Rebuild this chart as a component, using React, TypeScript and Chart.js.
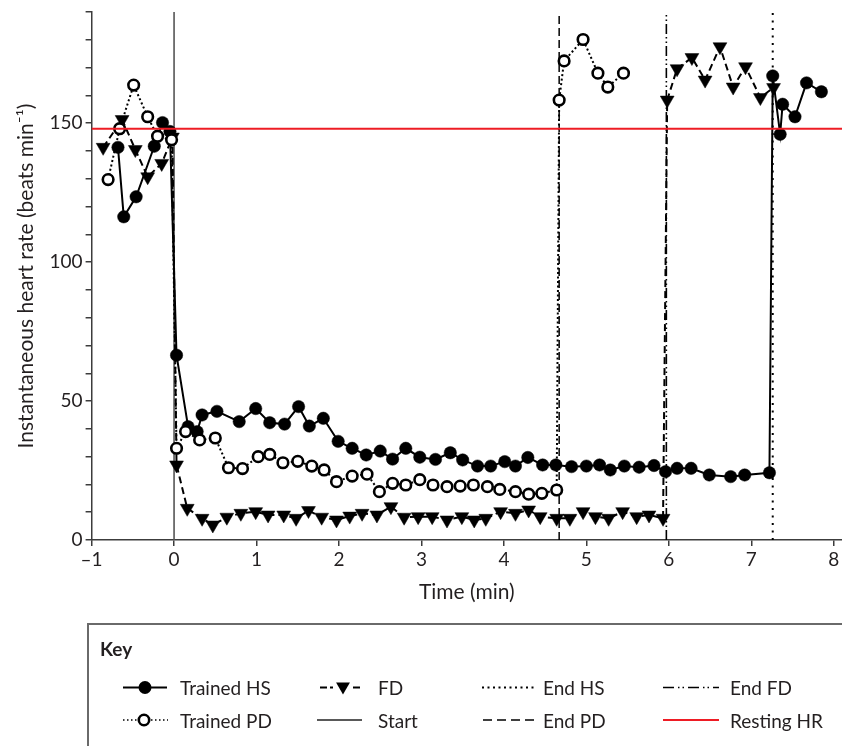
import React, { useEffect, useRef } from "react";
import { Chart, registerables } from "chart.js";

Chart.register(...registerables);

// ---------- data ----------
const hsTime = [-0.68, -0.61, -0.46, -0.24, -0.14, -0.05, 0.03, 0.17, 0.28, 0.34, 0.52, 0.79, 0.99, 1.16, 1.34, 1.51, 1.64, 1.81, 1.99, 2.16, 2.33, 2.5, 2.65, 2.81, 2.98, 3.17, 3.35, 3.5, 3.68, 3.84, 4.01, 4.14, 4.29, 4.47, 4.63, 4.82, 5.0, 5.16, 5.29, 5.46, 5.64, 5.82, 5.96, 6.1, 6.27, 6.49, 6.75, 6.92, 7.22, 7.26, 7.35, 7.38, 7.53, 7.67, 7.85];
const hsRate = [141.3, 116.3, 123.5, 141.7, 150.2, 147, 66.5, 40.8, 39, 45, 46.3, 42.6, 47.3, 42.2, 41.7, 48.0, 41.0, 43.8, 35.5, 33.0, 30.6, 32.0, 29.1, 33.0, 29.8, 29.0, 31.4, 28.8, 26.6, 26.6, 28.2, 26.6, 29.7, 27.0, 27.0, 26.4, 26.6, 27.0, 25.2, 26.6, 26.2, 26.8, 24.6, 25.8, 25.8, 23.4, 22.8, 23.4, 24.2, 167, 146, 156.8, 152.3, 164.5, 161.3];

const pdTime = [-0.8, -0.66, -0.49, -0.32, -0.2, -0.03, 0.03, 0.14, 0.31, 0.5, 0.66, 0.83, 1.02, 1.16, 1.32, 1.5, 1.67, 1.82, 1.97, 2.16, 2.34, 2.49, 2.65, 2.81, 2.98, 3.14, 3.31, 3.47, 3.63, 3.8, 3.95, 4.14, 4.3, 4.46, 4.64, 4.67, 4.73, 4.96, 5.14, 5.26, 5.45];
const pdRate = [129.7, 148, 163.7, 152.3, 145.3, 144, 33, 39, 36, 36.7, 26.0, 25.7, 30.0, 30.8, 27.8, 28.3, 26.6, 25.2, 21.0, 23.0, 23.7, 17.4, 20.4, 19.8, 21.7, 19.8, 19.2, 19.4, 19.8, 19.2, 18.2, 17.4, 16.5, 16.8, 18.0, 158.3, 172.4, 180.1, 168, 163, 168];

const fdTime = [-0.86, -0.63, -0.47, -0.32, -0.15, -0.02, 0.03, 0.16, 0.34, 0.47, 0.64, 0.81, 0.99, 1.14, 1.33, 1.48, 1.63, 1.79, 1.97, 2.13, 2.28, 2.46, 2.63, 2.79, 2.96, 3.13, 3.31, 3.49, 3.64, 3.78, 3.96, 4.14, 4.3, 4.44, 4.64, 4.8, 4.96, 5.11, 5.27, 5.44, 5.61, 5.76, 5.93, 5.98, 6.1, 6.28, 6.44, 6.62, 6.78, 6.93, 7.11, 7.27];
const fdRate = [141.3, 151.3, 140.5, 130.7, 135.5, 145, 27, 11.4, 7.8, 5.4, 8.2, 9.6, 10.2, 9.0, 9.0, 7.8, 10.6, 8.2, 7.2, 8.6, 9.6, 9.0, 12.0, 8.2, 8.4, 8.4, 7.2, 8.4, 7.2, 7.8, 10.2, 9.6, 10.8, 8.4, 7.8, 7.8, 10.2, 8.4, 7.8, 10.2, 8.4, 9.0, 7.8, 158.3, 169.6, 173.6, 165.5, 177.5, 163, 170.3, 159.2, 162.8];

const startTime = 0;
const endPdTime = 4.67;
const endFdTime = 5.97;
const endHsTime = 7.26;
const restingHr = 148;

const xRange = [-1, 8.1];
const yRange = [0, 190];
const yLabelledTicks = [0, 50, 100, 150];

const keyRow1 = ["Trained HS", "FD", "End HS", "End FD"];
const keyRow2 = ["Trained PD", "Start", "End PD", "Resting HR"];

// ---------- styles ----------
const FONT = "Lato, 'Open Sans', sans-serif";
const TEXT = "#231f20";
const AXIS = "#3c3c3c";
const RED = "#ee1c24";
const FS = 19;
const TFS = 21;

const pts = (t: number[], v: number[]) => t.map((x, i) => ({ x, y: v[i] }));
const vline = (x: number) => [
  { x, y: yRange[0] },
  { x, y: yRange[1] },
];

function drawTri(ctx: CanvasRenderingContext2D, x: number, y: number, r: number) {
  ctx.beginPath();
  ctx.moveTo(x, y + r);
  ctx.lineTo(x - Math.sin((2 * Math.PI) / 3) * r, y - r / 2);
  ctx.lineTo(x + Math.sin((2 * Math.PI) / 3) * r, y - r / 2);
  ctx.closePath();
  ctx.fill();
}

function seg(ctx: CanvasRenderingContext2D, x1: number, x2: number, y: number, dash: number[], color = "#000", w = 2) {
  ctx.save();
  ctx.strokeStyle = color;
  ctx.lineWidth = w;
  ctx.setLineDash(dash);
  ctx.beginPath();
  ctx.moveTo(x1, y);
  ctx.lineTo(x2, y);
  ctx.stroke();
  ctx.restore();
}

const keyPlugin = {
  id: "keyBox",
  afterDraw(chart: any) {
    const ctx: CanvasRenderingContext2D = chart.ctx;
    ctx.save();
    // box
    ctx.strokeStyle = "#6a6a6a";
    ctx.lineWidth = 2;
    ctx.beginPath();
    ctx.moveTo(88, 760);
    ctx.lineTo(88, 624);
    ctx.lineTo(860, 624);
    ctx.stroke();

    ctx.fillStyle = TEXT;
    ctx.textBaseline = "alphabetic";
    ctx.textAlign = "left";
    ctx.font = `bold ${FS}px ${FONT}`;
    ctx.fillText("Key", 100, 656);

    ctx.font = `${FS}px ${FONT}`;
    const y1 = 687.5;
    const y2 = 720;
    const b1 = 695;
    const b2 = 727.5;
    const tx = [180, 378, 543, 730];
    keyRow1.forEach((s, i) => ctx.fillText(s, tx[i], b1));
    keyRow2.forEach((s, i) => ctx.fillText(s, tx[i], b2));

    // Trained HS
    seg(ctx, 123, 167, y1, []);
    ctx.fillStyle = "#000";
    ctx.beginPath();
    ctx.arc(145, y1, 6.5, 0, Math.PI * 2);
    ctx.fill();
    // Trained PD
    seg(ctx, 123, 168, y2, [1.5, 2.5], "#000", 1.5);
    ctx.fillStyle = "#fff";
    ctx.strokeStyle = "#000";
    ctx.lineWidth = 2.6;
    ctx.setLineDash([]);
    ctx.beginPath();
    ctx.arc(144, y2, 5.2, 0, Math.PI * 2);
    ctx.fill();
    ctx.stroke();
    // FD
    seg(ctx, 320, 333, y1, [7, 3]);
    seg(ctx, 353, 362, y1, [7, 3]);
    ctx.fillStyle = "#000";
    drawTri(ctx, 343, y1 - 1, 8);
    // Start
    seg(ctx, 317, 362, y2, [], "#222", 1.5);
    // End HS
    seg(ctx, 482, 537, y1, [2, 3.5], "#000", 2);
    // End PD
    seg(ctx, 483, 537, y2, [9, 5], "#000", 1.5);
    // End FD
    seg(ctx, 663, 719, y1, [11, 4, 1.5, 3, 1.5, 4], "#000", 1.5);
    // Resting HR
    seg(ctx, 663, 719, y2, [], RED, 2);
    ctx.restore();
  },
};

export default function App() {
  const ref = useRef<HTMLCanvasElement | null>(null);

  useEffect(() => {
    if (!ref.current) return;
    const chart = new Chart(ref.current, {
      type: "line",
      data: {
        datasets: [
          {
            label: "Resting HR",
            data: [
              { x: xRange[0], y: restingHr },
              { x: xRange[1], y: restingHr },
            ],
            borderColor: RED,
            borderWidth: 2,
            pointRadius: 0,
            order: 0,
          },
          {
            label: "Trained PD",
            data: pts(pdTime, pdRate),
            borderColor: "#000",
            borderWidth: 2,
            borderDash: [2, 2.5],
            pointStyle: "circle",
            pointRadius: 5.3,
            pointBorderWidth: 2.6,
            pointBackgroundColor: "#fff",
            pointBorderColor: "#000",
            order: 1,
          },
          {
            label: "FD",
            data: pts(fdTime, fdRate),
            borderColor: "#000",
            borderWidth: 2,
            borderDash: [7, 4],
            pointStyle: "triangle",
            rotation: 180,
            pointRadius: 8,
            pointBorderWidth: 0.5,
            pointBackgroundColor: "#000",
            pointBorderColor: "#000",
            order: 2,
          },
          {
            label: "Trained HS",
            data: pts(hsTime, hsRate),
            borderColor: "#000",
            borderWidth: 2,
            pointStyle: "circle",
            pointRadius: 6.2,
            pointBorderWidth: 0.5,
            pointBackgroundColor: "#000",
            pointBorderColor: "#000",
            order: 3,
          },
          {
            label: "Start",
            data: vline(startTime),
            borderColor: "#555",
            borderWidth: 1.6,
            pointRadius: 0,
            order: 4,
          },
          {
            label: "End PD",
            data: vline(endPdTime),
            borderColor: "#000",
            borderWidth: 1.5,
            borderDash: [8, 4],
            pointRadius: 0,
            order: 5,
          },
          {
            label: "End FD",
            data: vline(endFdTime),
            borderColor: "#000",
            borderWidth: 1.6,
            borderDash: [10, 3, 1.5, 3, 1.5, 3],
            pointRadius: 0,
            order: 6,
          },
          {
            label: "End HS",
            data: vline(endHsTime),
            borderColor: "#000",
            borderWidth: 2,
            borderDash: [2, 5.5],
            pointRadius: 0,
            order: 7,
          },
        ],
      },
      options: {
        responsive: false,
        animation: false,
        devicePixelRatio: 1,
        layout: { autoPadding: false, padding: { left: 0, right: 0, top: 12, bottom: 126 } },
        plugins: {
          legend: { display: false },
          tooltip: { enabled: false },
        },
        elements: { line: { tension: 0 } },
        scales: {
          x: {
            type: "linear",
            min: xRange[0],
            max: xRange[1],
            border: { display: true, color: AXIS, width: 1.5 },
            grid: {
              display: true,
              drawOnChartArea: false,
              drawTicks: true,
              tickLength: 6,
              color: AXIS,
              lineWidth: 1.5,
            },
            ticks: {
              stepSize: 1,
              includeBounds: false,
              autoSkip: false,
              maxRotation: 0,
              padding: 2,
              color: TEXT,
              font: { family: FONT, size: FS },
              callback: (v: any) => (Number(v) < 0 ? "\u2013" + Math.abs(Number(v)) : String(v)),
            },
            title: {
              display: true,
              text: "Time (min)",
              color: TEXT,
              font: { family: FONT, size: TFS },
              padding: { top: 0, bottom: 15.4 },
            },
            afterFit: (s: any) => {
              s.height = 80;
              s.paddingRight = 0;
              s.paddingLeft = 0;
            },
          },
          y: {
            type: "linear",
            min: yRange[0],
            max: yRange[1],
            border: { display: true, color: AXIS, width: 1.5 },
            grid: {
              display: true,
              drawOnChartArea: false,
              drawTicks: true,
              tickLength: 6,
              color: AXIS,
              lineWidth: 1.5,
            },
            ticks: {
              stepSize: 10,
              autoSkip: false,
              padding: 3,
              color: TEXT,
              font: { family: FONT, size: FS },
              callback: (v: any) => (yLabelledTicks.includes(Number(v)) ? String(v) : ""),
            },
            title: {
              display: true,
              text: "Instantaneous heart rate (beats min\u207B\u00B9)",
              color: TEXT,
              font: { family: FONT, size: TFS },
              padding: { top: 14, bottom: 0 },
            },
            afterFit: (s: any) => {
              s.width = 91.6;
              s.paddingTop = 0;
              s.paddingBottom = 0;
            },
          },
        },
      },
      plugins: [keyPlugin],
    });
    return () => chart.destroy();
  }, []);

  return (
    <div style={{ position: "absolute", left: 0, top: 0, width: 842, height: 746, background: "#fff" }}>
      <canvas ref={ref} width={842} height={746} style={{ display: "block" }} />
    </div>
  );
}
